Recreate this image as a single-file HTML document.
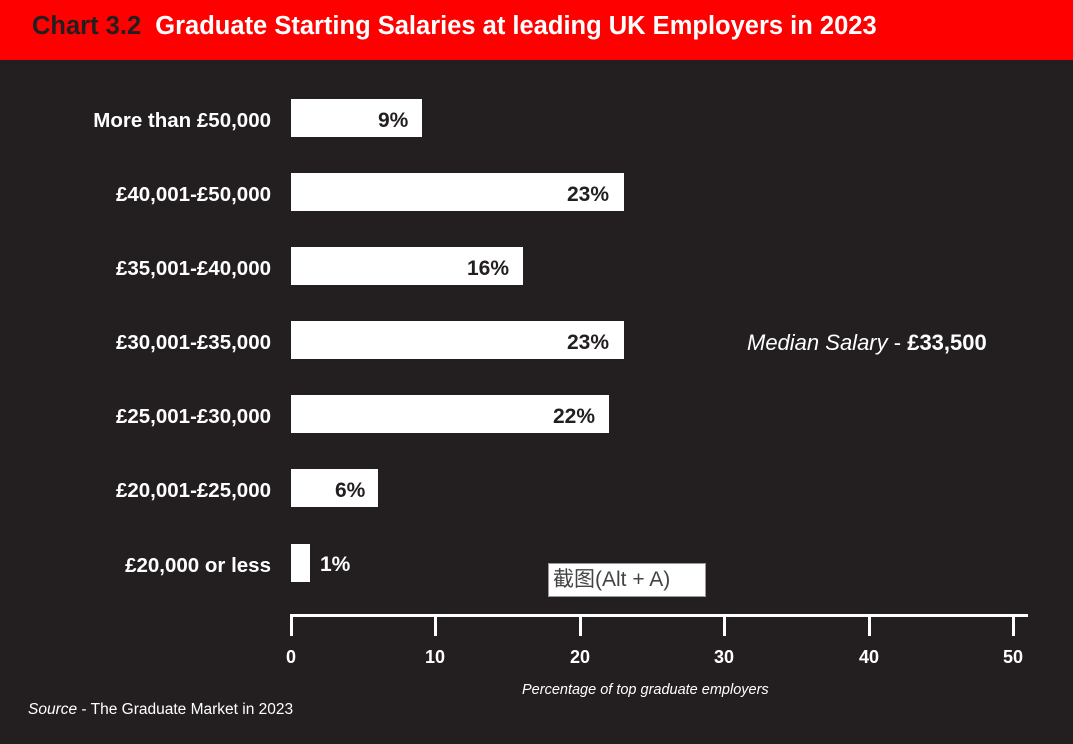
<!DOCTYPE html>
<html><head><meta charset="utf-8"><style>
*{margin:0;padding:0;box-sizing:border-box}
body{width:1073px;height:744px;background:#231f20;position:relative;overflow:hidden;font-family:"Liberation Sans","Noto Sans CJK SC",sans-serif;color:#fff}
.hdr{position:absolute;left:0;top:0;width:1073px;height:60px;background:#ff0000}
.t{position:absolute;top:12px;left:32px;font-size:25.5px;font-weight:bold;white-space:nowrap}
.lbl{position:absolute;right:802px;font-size:20.5px;font-weight:bold;white-space:nowrap;line-height:24px}
.bar{position:absolute;left:291px;height:38px;background:#fff}
.v{position:absolute;font-size:21px;font-weight:bold;line-height:24px;color:#231f20}
.tick{position:absolute;top:615px;width:3px;height:21px;background:#fff}
.tl{position:absolute;top:647px;width:40px;text-align:center;font-size:18px;font-weight:bold}
</style></head><body>
<div class="hdr"></div>
<div class="t"><span style="color:#231f20">Chart 3.2</span>&nbsp; Graduate Starting Salaries at leading UK Employers in 2023</div>

<div class="lbl" style="top:109px">More than £50,000</div>
<div class="bar" style="top:99px;width:131px"></div><div class="v" style="top:109px;left:378px">9%</div>

<div class="lbl" style="top:183px">£40,001-£50,000</div>
<div class="bar" style="top:173px;width:333px"></div><div class="v" style="top:183px;left:567px">23%</div>

<div class="lbl" style="top:257px">£35,001-£40,000</div>
<div class="bar" style="top:247px;width:232px"></div><div class="v" style="top:257px;left:467px">16%</div>

<div class="lbl" style="top:331px">£30,001-£35,000</div>
<div class="bar" style="top:321px;width:333px"></div><div class="v" style="top:331px;left:567px">23%</div>

<div class="lbl" style="top:405px">£25,001-£30,000</div>
<div class="bar" style="top:395px;width:318px"></div><div class="v" style="top:405px;left:553px">22%</div>

<div class="lbl" style="top:479px">£20,001-£25,000</div>
<div class="bar" style="top:469px;width:87px"></div><div class="v" style="top:479px;left:335px">6%</div>

<div class="lbl" style="top:554px">£20,000 or less</div>
<div class="bar" style="top:544px;width:19px"></div><div class="v" style="top:553px;left:320px;color:#fff">1%</div>

<div style="position:absolute;left:747px;top:330px;font-size:22px;white-space:nowrap"><i>Median Salary</i> - <b>£33,500</b></div>

<div style="position:absolute;left:548px;top:563px;width:158px;height:34px;background:#fff;border:1px solid #999;color:#444;font-size:21px;line-height:32px;padding-left:4px;white-space:nowrap">截图(Alt + A)</div>

<div style="position:absolute;left:290px;top:614px;width:738px;height:3px;background:#fff"></div>
<div class="tick" style="left:290px"></div><div class="tick" style="left:434px"></div><div class="tick" style="left:579px"></div><div class="tick" style="left:723px"></div><div class="tick" style="left:868px"></div><div class="tick" style="left:1012px"></div>
<div class="tl" style="left:271px">0</div><div class="tl" style="left:415px">10</div><div class="tl" style="left:560px">20</div><div class="tl" style="left:704px">30</div><div class="tl" style="left:849px">40</div><div class="tl" style="left:993px">50</div>

<div style="position:absolute;left:522px;top:682px;font-size:14.5px;font-style:italic;white-space:nowrap">Percentage of top graduate employers</div>
<div style="position:absolute;left:28px;top:701px;font-size:15.5px;white-space:nowrap"><i>Source</i> - The Graduate Market in 2023</div>
</body></html>
